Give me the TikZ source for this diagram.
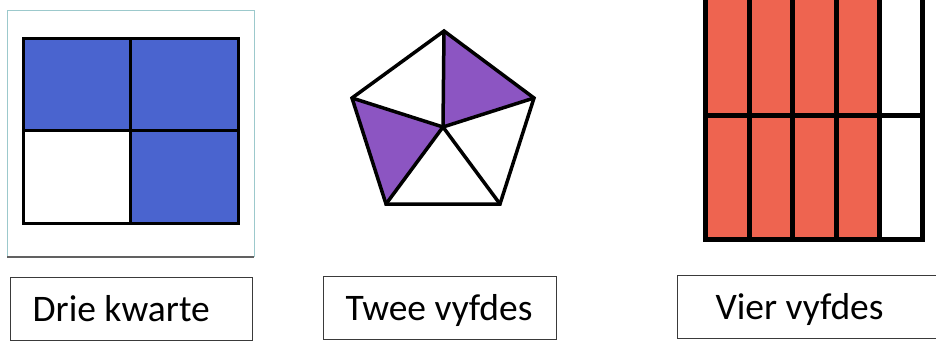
\documentclass[tikz,border=0pt]{standalone}
\usepackage{fontspec}
\setmainfont{Carlito}
\usepackage{tikz}
\usetikzlibrary{positioning}
\definecolor{pencilblue}{HTML}{4A64CF}
\definecolor{pencilpurple}{HTML}{8C55C2}
\definecolor{pencilred}{HTML}{EE6450}
\definecolor{frameteal}{HTML}{9CC9CC}
\definecolor{inkgrey}{HTML}{3A3A3A}
\tikzset{
  cellpen/.style={draw=black, line width=#1, line join=miter},
  cellpen/.default=3pt,
  lbl/.style={draw=inkgrey, line width=1.2pt, anchor=north west,
              minimum height=63pt, inner xsep=#1, text height=25pt, text depth=0pt,
              font=\fontsize{37.5}{40}\selectfont},
  lbl/.default=22pt,
}
\newcommand{\lbltext}[2]{\makebox[#1][l]{#2}}

\begin{document}
\begin{tikzpicture}[x=1pt, y=-1pt]
\useasboundingbox (0,0) rectangle (936,340);

% ---------------- (1) square in quarters ---------------------------------
\draw[frameteal, line width=1pt] (7,257) -- (7,10) -- (254,10) -- (254,257);
\draw[inkgrey!80, line width=1.2pt] (7,257) -- (254,257);
\fill[pencilblue] (23,38) rectangle (130,130);
\fill[pencilblue] (130,38) rectangle (238,130);
\fill[pencilblue] (130,130) rectangle (238,223);
\draw[cellpen] (23,38) rectangle (238,223);
\draw[cellpen] (130,38) -- (130,223);
\draw[cellpen] (23,130) -- (238,130);

% ---------------- (2) pentagon in fifths ---------------------------------
\coordinate (ptop) at (444,31);
\coordinate (pleft) at (352,98);
\coordinate (pright) at (534,98);
\coordinate (pbl) at (386,204);
\coordinate (pbr) at (500,204);
\coordinate (pmid) at (443,127);
\fill[pencilpurple] (ptop) -- (pright) -- (pmid) -- cycle;
\fill[pencilpurple] (pleft) -- (pmid) -- (pbl) -- cycle;
\draw[cellpen=3.5pt] (ptop) -- (pright) -- (pbr) -- (pbl) -- (pleft) -- cycle;
\foreach \v in {ptop,pright,pbr,pbl,pleft}
  \draw[cellpen=3.5pt] (pmid) -- (\v);

% ---------------- (3) rectangle in tenths --------------------------------
\fill[pencilred] (705,-10) rectangle (879,239);
\draw[cellpen=5pt] (705,-10) rectangle (922,239);
\draw[cellpen=5pt] (705,115) -- (922,115);
\foreach \x in {749,792,836,879}
  \draw[cellpen=5pt] (\x,-10) -- (\x,239);

% ---------------- labels -------------------------------------------------
\node[lbl] (quartlbl) at (10,277) {\lbltext{198pt}{Drie kwarte}};
\node[lbl] (fifthlbl) at (323,276) {\lbltext{189pt}{Twee vyfdes}};
\node[lbl=38pt] (tenthlbl) at (677,275) {\lbltext{192pt}{Vier vyfdes}};
\end{tikzpicture}
\end{document}
